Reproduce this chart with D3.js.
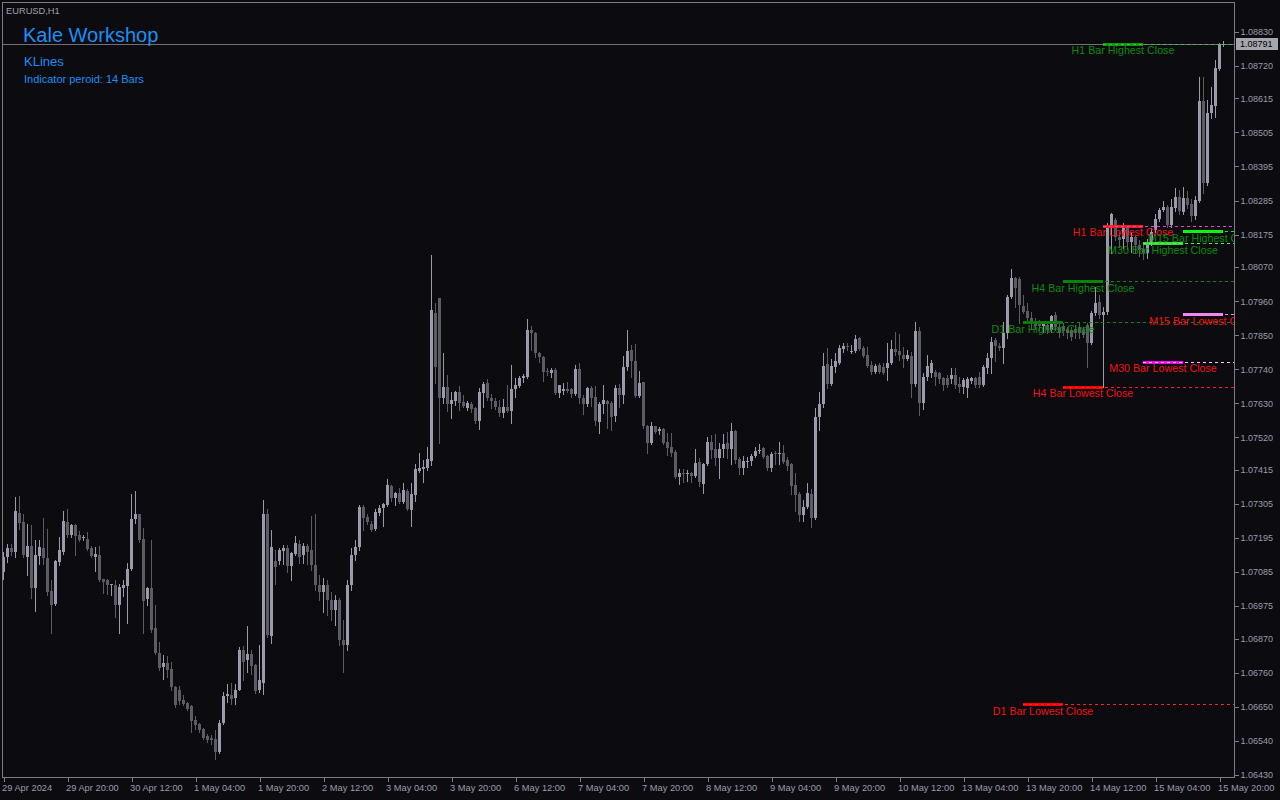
<!DOCTYPE html>
<html><head><meta charset="utf-8">
<script src="https://cdn.jsdelivr.net/npm/d3@7"></script>
<style>html,body{margin:0;padding:0;background:#0b0b10;overflow:hidden}svg{display:block}</style>
</head><body><svg id="c" width="1280" height="800"></svg>
<script>
// ---- DATA (EURUSD H1, one entry per bar, oldest first) ----
const opens=[1.07085,1.07134,1.07164,1.07150,1.07277,1.07245,1.07134,1.07168,1.07033,1.07137,1.07164,1.07131,1.07023,1.06981,1.07117,1.07150,1.07245,1.07204,1.07236,1.07204,1.07195,1.07191,1.07164,1.07134,1.07139,1.07061,1.07058,1.07042,1.07044,1.06977,1.07033,1.07040,1.07096,1.07255,1.07271,1.07191,1.06997,1.07035,1.06903,1.06825,1.06778,1.06792,1.06771,1.06714,1.06703,1.06671,1.06663,1.06651,1.06606,1.06595,1.06577,1.06554,1.06549,1.06546,1.06504,1.06598,1.06683,1.06687,1.06678,1.06705,1.06832,1.06802,1.06821,1.06784,1.06703,1.06727,1.07274,1.06878,1.07121,1.07121,1.07153,1.07161,1.07105,1.07142,1.07177,1.07139,1.07168,1.07155,1.07107,1.07042,1.07019,1.07042,1.06994,1.06961,1.06994,1.06864,1.06848,1.07042,1.07139,1.07165,1.07294,1.07262,1.07239,1.07223,1.07275,1.07291,1.07300,1.07362,1.07323,1.07339,1.07310,1.07346,1.07284,1.07333,1.07410,1.07417,1.07420,1.07443,1.07921,1.07969,1.07646,1.07682,1.07627,1.07636,1.07666,1.07633,1.07614,1.07627,1.07614,1.07572,1.07662,1.07695,1.07646,1.07636,1.07617,1.07598,1.07617,1.07604,1.07675,1.07685,1.07711,1.07714,1.07866,1.07856,1.07792,1.07779,1.07733,1.07727,1.07737,1.07662,1.07669,1.07675,1.07675,1.07659,1.07740,1.07646,1.07627,1.07678,1.07649,1.07569,1.07627,1.07636,1.07630,1.07588,1.07678,1.07656,1.07746,1.07801,1.07766,1.07653,1.07698,1.07556,1.07501,1.07556,1.07540,1.07546,1.07504,1.07488,1.07472,1.07391,1.07404,1.07401,1.07404,1.07394,1.07440,1.07368,1.07433,1.07504,1.07481,1.07452,1.07481,1.07501,1.07481,1.07540,1.07449,1.07420,1.07440,1.07443,1.07459,1.07475,1.07485,1.07459,1.07420,1.07468,1.07465,1.07468,1.07446,1.07433,1.07365,1.07336,1.07268,1.07294,1.07336,1.07259,1.07585,1.07627,1.07756,1.07691,1.07746,1.07759,1.07805,1.07814,1.07795,1.07798,1.07840,1.07808,1.07785,1.07753,1.07730,1.07753,1.07746,1.07743,1.07759,1.07805,1.07798,1.07785,1.07772,1.07782,1.07691,1.07863,1.07630,1.07714,1.07727,1.07730,1.07727,1.07711,1.07711,1.07707,1.07720,1.07691,1.07682,1.07678,1.07701,1.07711,1.07714,1.07688,1.07743,1.07775,1.07833,1.07814,1.07808,1.07856,1.07972,1.08034,1.08031,1.07943,1.07927,1.07905,1.07888,1.07888,1.07879,1.07882,1.07866,1.07914,1.07875,1.07879,1.07869,1.07866,1.07869,1.07875,1.07866,1.07882,1.07824,1.07921,1.07956,1.07914,1.07924,1.08195,1.08221,1.08166,1.08160,1.08195,1.08150,1.08166,1.08140,1.08127,1.08115,1.08147,1.08189,1.08224,1.08253,1.08263,1.08205,1.08260,1.08295,1.08247,1.08292,1.08275,1.08234,1.08283,1.08605,1.08340,1.08567,1.08590,1.08709,1.08791];
const highs=[1.07150,1.07177,1.07177,1.07327,1.07330,1.07274,1.07241,1.07238,1.07187,1.07187,1.07261,1.07225,1.07060,1.07123,1.07198,1.07281,1.07287,1.07241,1.07241,1.07218,1.07204,1.07214,1.07168,1.07166,1.07168,1.07064,1.07061,1.07047,1.07058,1.07047,1.07058,1.07114,1.07336,1.07346,1.07274,1.07228,1.07037,1.07187,1.06977,1.06858,1.06816,1.06814,1.06794,1.06716,1.06716,1.06687,1.06665,1.06654,1.06619,1.06597,1.06582,1.06563,1.06557,1.06574,1.06606,1.06697,1.06722,1.06726,1.06722,1.06843,1.06845,1.06910,1.06832,1.06789,1.06848,1.07317,1.07290,1.07220,1.07157,1.07164,1.07171,1.07171,1.07150,1.07200,1.07187,1.07179,1.07177,1.07265,1.07271,1.07074,1.07065,1.07058,1.07019,1.07010,1.07000,1.06929,1.07058,1.07162,1.07187,1.07300,1.07300,1.07271,1.07249,1.07288,1.07300,1.07307,1.07384,1.07365,1.07342,1.07355,1.07372,1.07352,1.07372,1.07433,1.07468,1.07446,1.07488,1.08108,1.07953,1.07969,1.07792,1.07720,1.07666,1.07669,1.07685,1.07656,1.07636,1.07633,1.07617,1.07678,1.07698,1.07707,1.07659,1.07646,1.07640,1.07643,1.07688,1.07753,1.07711,1.07717,1.07724,1.07901,1.07879,1.07860,1.07795,1.07782,1.07743,1.07743,1.07743,1.07690,1.07695,1.07698,1.07678,1.07753,1.07759,1.07656,1.07682,1.07685,1.07685,1.07633,1.07688,1.07640,1.07636,1.07688,1.07691,1.07782,1.07866,1.07817,1.07821,1.07733,1.07700,1.07559,1.07569,1.07558,1.07552,1.07549,1.07533,1.07533,1.07478,1.07417,1.07417,1.07414,1.07407,1.07481,1.07452,1.07436,1.07520,1.07527,1.07530,1.07501,1.07530,1.07536,1.07565,1.07543,1.07456,1.07459,1.07456,1.07465,1.07488,1.07498,1.07488,1.07462,1.07472,1.07475,1.07504,1.07494,1.07456,1.07436,1.07404,1.07342,1.07317,1.07372,1.07352,1.07614,1.07666,1.07792,1.07808,1.07772,1.07792,1.07817,1.07824,1.07824,1.07817,1.07850,1.07843,1.07814,1.07811,1.07766,1.07756,1.07759,1.07759,1.07824,1.07833,1.07859,1.07853,1.07811,1.07801,1.07795,1.07892,1.07875,1.07727,1.07785,1.07769,1.07737,1.07730,1.07714,1.07720,1.07743,1.07743,1.07714,1.07711,1.07714,1.07714,1.07714,1.07730,1.07753,1.07792,1.07843,1.07840,1.07824,1.07892,1.07979,1.08063,1.08037,1.08037,1.07979,1.07953,1.07924,1.07905,1.07898,1.07892,1.07892,1.07914,1.07924,1.07888,1.07888,1.07875,1.07875,1.07882,1.07888,1.07875,1.07888,1.07927,1.08005,1.07979,1.07940,1.08211,1.08246,1.08227,1.08182,1.08214,1.08205,1.08182,1.08175,1.08156,1.08150,1.08160,1.08195,1.08240,1.08260,1.08285,1.08270,1.08290,1.08325,1.08320,1.08330,1.08315,1.08290,1.08298,1.08683,1.08683,1.08609,1.08651,1.08738,1.08795,1.08800];
const lows=[1.07064,1.07117,1.07139,1.07134,1.07225,1.07134,1.07074,1.07001,1.06959,1.07112,1.07112,1.07010,1.06888,1.06977,1.07107,1.07144,1.07198,1.07198,1.07139,1.07184,1.07187,1.07157,1.07134,1.07087,1.07056,1.07017,1.07013,1.07010,1.06940,1.06888,1.07007,1.06920,1.07093,1.07243,1.07182,1.06888,1.06977,1.06891,1.06819,1.06767,1.06741,1.06746,1.06705,1.06649,1.06660,1.06654,1.06638,1.06568,1.06579,1.06568,1.06547,1.06536,1.06530,1.06482,1.06500,1.06595,1.06665,1.06660,1.06660,1.06703,1.06735,1.06762,1.06757,1.06694,1.06697,1.06692,1.06875,1.06856,1.07047,1.07112,1.07110,1.07085,1.07060,1.07139,1.07114,1.07114,1.07112,1.07091,1.07026,1.06994,1.06955,1.06945,1.06929,1.06913,1.06848,1.06761,1.06832,1.07026,1.07123,1.07155,1.07220,1.07239,1.07217,1.07220,1.07268,1.07233,1.07297,1.07313,1.07300,1.07307,1.07307,1.07284,1.07233,1.07313,1.07407,1.07375,1.07413,1.07430,1.07695,1.07501,1.07630,1.07604,1.07582,1.07624,1.07607,1.07617,1.07607,1.07601,1.07565,1.07546,1.07617,1.07640,1.07614,1.07611,1.07588,1.07585,1.07601,1.07565,1.07649,1.07682,1.07698,1.07711,1.07801,1.07779,1.07762,1.07701,1.07720,1.07714,1.07659,1.07649,1.07659,1.07666,1.07649,1.07656,1.07630,1.07594,1.07620,1.07620,1.07559,1.07533,1.07598,1.07549,1.07543,1.07572,1.07617,1.07630,1.07737,1.07714,1.07649,1.07649,1.07549,1.07468,1.07498,1.07533,1.07530,1.07498,1.07462,1.07459,1.07388,1.07368,1.07375,1.07378,1.07375,1.07391,1.07362,1.07339,1.07430,1.07452,1.07430,1.07388,1.07456,1.07452,1.07433,1.07436,1.07401,1.07401,1.07423,1.07430,1.07456,1.07468,1.07452,1.07413,1.07410,1.07433,1.07433,1.07436,1.07414,1.07336,1.07281,1.07249,1.07249,1.07291,1.07230,1.07256,1.07543,1.07617,1.07678,1.07688,1.07730,1.07756,1.07795,1.07801,1.07792,1.07795,1.07801,1.07779,1.07747,1.07724,1.07727,1.07727,1.07724,1.07704,1.07756,1.07785,1.07769,1.07746,1.07769,1.07649,1.07685,1.07591,1.07611,1.07704,1.07714,1.07688,1.07695,1.07672,1.07682,1.07695,1.07678,1.07666,1.07662,1.07649,1.07695,1.07682,1.07682,1.07685,1.07727,1.07727,1.07766,1.07801,1.07759,1.07840,1.07969,1.07940,1.07888,1.07921,1.07898,1.07872,1.07869,1.07866,1.07859,1.07856,1.07859,1.07866,1.07843,1.07850,1.07840,1.07833,1.07840,1.07840,1.07843,1.07746,1.07820,1.07914,1.07905,1.07684,1.07918,1.08114,1.08156,1.08134,1.08131,1.08127,1.08118,1.08114,1.08105,1.08095,1.08100,1.08140,1.08182,1.08218,1.08250,1.08198,1.08198,1.08250,1.08240,1.08240,1.08260,1.08220,1.08225,1.08280,1.08308,1.08334,1.08550,1.08554,1.08706,1.08785];
const closes=[1.07134,1.07164,1.07150,1.07281,1.07243,1.07139,1.07168,1.07033,1.07139,1.07166,1.07131,1.07021,1.06977,1.07120,1.07157,1.07249,1.07204,1.07236,1.07201,1.07187,1.07199,1.07158,1.07136,1.07142,1.07058,1.07053,1.07044,1.07046,1.06977,1.07038,1.07042,1.07094,1.07257,1.07271,1.07187,1.06991,1.07035,1.06897,1.06825,1.06775,1.06792,1.06767,1.06714,1.06654,1.06668,1.06660,1.06644,1.06604,1.06592,1.06574,1.06550,1.06543,1.06541,1.06504,1.06598,1.06683,1.06690,1.06676,1.06705,1.06832,1.06794,1.06819,1.06781,1.06701,1.06735,1.07271,1.06881,1.07166,1.07101,1.07155,1.07161,1.07105,1.07147,1.07179,1.07134,1.07168,1.07150,1.07107,1.07042,1.07019,1.07042,1.06994,1.06961,1.06994,1.06864,1.06848,1.07042,1.07139,1.07165,1.07294,1.07259,1.07246,1.07220,1.07278,1.07291,1.07304,1.07365,1.07323,1.07339,1.07310,1.07349,1.07288,1.07336,1.07417,1.07420,1.07423,1.07449,1.07930,1.07746,1.07646,1.07682,1.07627,1.07640,1.07666,1.07630,1.07620,1.07630,1.07611,1.07572,1.07666,1.07691,1.07646,1.07636,1.07617,1.07598,1.07617,1.07604,1.07675,1.07688,1.07711,1.07717,1.07866,1.07856,1.07792,1.07779,1.07730,1.07730,1.07737,1.07662,1.07688,1.07675,1.07669,1.07659,1.07740,1.07646,1.07627,1.07678,1.07646,1.07572,1.07627,1.07640,1.07627,1.07585,1.07678,1.07656,1.07746,1.07798,1.07766,1.07653,1.07695,1.07556,1.07501,1.07556,1.07536,1.07546,1.07501,1.07485,1.07468,1.07391,1.07404,1.07401,1.07404,1.07394,1.07436,1.07375,1.07433,1.07504,1.07478,1.07452,1.07481,1.07498,1.07481,1.07540,1.07446,1.07420,1.07443,1.07443,1.07459,1.07475,1.07478,1.07456,1.07420,1.07465,1.07465,1.07468,1.07439,1.07427,1.07362,1.07333,1.07268,1.07294,1.07339,1.07259,1.07585,1.07627,1.07750,1.07691,1.07750,1.07766,1.07808,1.07814,1.07811,1.07798,1.07837,1.07805,1.07782,1.07750,1.07730,1.07750,1.07730,1.07727,1.07759,1.07805,1.07795,1.07785,1.07772,1.07785,1.07691,1.07863,1.07630,1.07714,1.07750,1.07759,1.07714,1.07707,1.07688,1.07688,1.07720,1.07688,1.07682,1.07704,1.07707,1.07711,1.07688,1.07688,1.07746,1.07775,1.07827,1.07814,1.07808,1.07856,1.07972,1.08034,1.08001,1.07946,1.07924,1.07905,1.07888,1.07879,1.07879,1.07888,1.07866,1.07911,1.07875,1.07856,1.07863,1.07856,1.07843,1.07856,1.07856,1.07850,1.07824,1.07921,1.07953,1.07914,1.07924,1.08195,1.08243,1.08166,1.08156,1.08195,1.08150,1.08166,1.08140,1.08124,1.08115,1.08150,1.08182,1.08224,1.08253,1.08263,1.08205,1.08263,1.08295,1.08250,1.08292,1.08270,1.08234,1.08286,1.08605,1.08340,1.08567,1.08593,1.08712,1.08791,1.08791];
const timeLabels=["29 Apr 2024","29 Apr 20:00","30 Apr 12:00","1 May 04:00","1 May 20:00","2 May 12:00","3 May 04:00","3 May 20:00","6 May 12:00","7 May 04:00","7 May 20:00","8 May 12:00","9 May 04:00","9 May 20:00","10 May 12:00","13 May 04:00","13 May 20:00","14 May 12:00","15 May 04:00","15 May 20:00"];
const timeLabelStep=16; // bars between time labels
const priceTicks=[1.08830,1.08720,1.08615,1.08505,1.08395,1.08285,1.08175,1.08070,1.07960,1.07850,1.07740,1.07630,1.07520,1.07415,1.07305,1.07195,1.07085,1.06975,1.06870,1.06760,1.06650,1.06540,1.06430];
const bidPrice=1.08791;
const levelTimeframes=["D1","D1","H4","H4","H1","H1","M30","M30","M15","M15"];
const levelKinds=["Highest","Lowest","Highest","Lowest","Highest","Lowest","Highest","Lowest","Highest","Lowest"];
const levelPrices=[1.07891,1.06658,1.08024,1.07684,1.08791,1.08204,1.08147,1.07765,1.08185,1.07917];
const timeframeOrder=["D1","H4","H1","M30","M15"];
const indicatorPeriod=14;

// ---- STYLE ----
const FONT="'Liberation Sans', Arial, sans-serif";
const segColor={"D1 Highest":"#087808","D1 Lowest":"#ff0000","H4 Highest":"#078307","H4 Lowest":"#ff0000","H1 Highest":"#0a9a0a","H1 Lowest":"#ff1a1a","M30 Highest":"#3ad83a","M30 Lowest":"#ff00ff","M15 Highest":"#00ff00","M15 Lowest":"#ee88ee"};
const dashColor={"D1 Highest":"#0b8a0b","D1 Lowest":"#ff2020","H4 Highest":"#0b8a0b","H4 Lowest":"#ff2020","H1 Highest":"#45c045","H1 Lowest":"#e040e0","M30 Highest":"#45ff45","M30 Lowest":"#ffc0ff","M15 Highest":"#20e020","M15 Lowest":"#ee88ee"};
const labelColor={Highest:"#0e8a0e",Lowest:"#f01414"};

const svg=d3.select("#c");
const W=1280,H=800;
const plot={left:2,top:2,right:1234,bottom:777};
const n=opens.length;
const x=d3.scaleLinear().domain([0,n-1]).range([3,3+4*(n-1)]);
const y=d3.scaleLinear().domain([1.06430,1.08830]).range([774.8,31.8]);

svg.append("rect").attr("width",W).attr("height",H).attr("fill","#0b0b10");
svg.append("defs").append("clipPath").attr("id","clip").append("rect")
  .attr("x",plot.left+1).attr("y",plot.top+1).attr("width",plot.right-plot.left-1).attr("height",plot.bottom-plot.top-1);

const g=svg.append("g").attr("clip-path","url(#clip)");

// bid line
g.append("line").attr("x1",plot.left).attr("x2",plot.right)
  .attr("y1",Math.round(y(bidPrice))+0.5).attr("y2",Math.round(y(bidPrice))+0.5)
  .attr("stroke","#707076").attr("stroke-width",1);

// candles
const bars=d3.range(n);
const cg=g.append("g").attr("shape-rendering","crispEdges");
const bull="#9a9aaa", bear="#5c5c64";
cg.selectAll("rect.wick").data(bars).join("rect").attr("class","wick")
  .attr("x",i=>x(i)).attr("width",1)
  .attr("y",i=>Math.round(y(highs[i])))
  .attr("height",i=>Math.max(1,Math.round(y(lows[i]))-Math.round(y(highs[i]))+1))
  .attr("fill",i=>closes[i]>=opens[i]?bull:bear);
cg.selectAll("rect.body").data(bars).join("rect").attr("class","body")
  .attr("x",i=>x(i)-1).attr("width",3)
  .attr("y",i=>Math.round(y(Math.max(opens[i],closes[i]))))
  .attr("height",i=>Math.max(1,Math.round(y(Math.min(opens[i],closes[i])))-Math.round(y(Math.max(opens[i],closes[i])))))
  .attr("fill",i=>closes[i]>=opens[i]?bull:bear);

// KLines levels
const lastBar=n-1;
const levels=levelPrices.map((p,k)=>({tf:levelTimeframes[k],kind:levelKinds[k],price:p}));
const lg=g.append("g");
levels.forEach(L=>{
  const slot=timeframeOrder.indexOf(L.tf);
  const b0=lastBar-10*(timeframeOrder.length-slot), b1=b0+10;
  const key=L.tf+" "+L.kind;
  const yy=Math.round(y(L.price))+0.5;
  lg.append("line").attr("x1",x(b0)).attr("x2",x(b1)).attr("y1",yy).attr("y2",yy)
    .attr("stroke",segColor[key]).attr("stroke-width",3);
  lg.append("line").attr("x1",x(b0)).attr("x2",plot.right).attr("y1",yy).attr("y2",yy)
    .attr("stroke",dashColor[key]).attr("stroke-width",1).attr("stroke-dasharray","3,3");
});
levels.forEach(L=>{
  const slot=timeframeOrder.indexOf(L.tf);
  const b0=lastBar-10*(timeframeOrder.length-slot), b1=b0+10;
  lg.append("text").attr("x",(x(b0)+x(b1))/2).attr("y",y(L.price)+10.5)
    .attr("text-anchor","middle").attr("font-family",FONT).attr("font-size","10.7px")
    .attr("fill",labelColor[L.kind]).text(L.tf+" Bar "+L.kind+" Close");
});

// frame
const fr=svg.append("g").attr("shape-rendering","crispEdges").attr("stroke","#7c7c84").attr("fill","none");
fr.append("rect").attr("x",plot.left+0.5).attr("y",plot.top+0.5).attr("width",plot.right-plot.left).attr("height",plot.bottom-plot.top);

// y axis
const ya=svg.append("g").attr("transform",`translate(${plot.right+0.5},0)`)
  .call(d3.axisRight(y).tickValues(priceTicks).tickFormat(d3.format(".5f")).tickSize(4).tickSizeOuter(0).tickPadding(2));
ya.select(".domain").remove();
ya.selectAll("line").attr("stroke","#7c7c84").attr("shape-rendering","crispEdges");
ya.selectAll("text").attr("fill","#9c9cab").attr("font-family",FONT).attr("font-size","9px");

// bid label
const by=y(bidPrice);
svg.append("rect").attr("x",plot.right+2).attr("y",Math.round(by)-6).attr("width",42).attr("height",12).attr("fill","#a6a6ae");
svg.append("text").attr("x",plot.right+6).attr("y",by).attr("dy","0.35em").attr("font-family",FONT).attr("font-size","9px").attr("fill","#000").text(d3.format(".5f")(bidPrice));

// x axis
const tickBars=timeLabels.map((d,k)=>k*timeLabelStep);
const xa=svg.append("g").attr("transform",`translate(0.5,${plot.bottom+0.5})`)
  .call(d3.axisBottom(x).tickValues(tickBars).tickFormat((d,k)=>timeLabels[k]).tickSize(4).tickSizeOuter(0));
xa.select(".domain").remove();
xa.selectAll("line").attr("stroke","#7c7c84").attr("shape-rendering","crispEdges");
xa.selectAll("text").attr("fill","#9c9cab").attr("font-family",FONT).attr("font-size","9.3px")
  .attr("text-anchor","start").attr("x",-2).attr("y",7).attr("dy","0.71em");

// header texts
svg.append("text").attr("x",6).attr("y",14).attr("font-family",FONT).attr("font-size","9.3px").attr("fill","#a2a2a8").text("EURUSD,H1");
svg.append("text").attr("x",23).attr("y",42).attr("font-family",FONT).attr("font-size","20px").attr("fill","#1e8ff5").text("Kale Workshop");
svg.append("text").attr("x",24).attr("y",66).attr("font-family",FONT).attr("font-size","13px").attr("fill","#1e8ff5").text("KLines");
svg.append("text").attr("x",24).attr("y",83).attr("font-family",FONT).attr("font-size","11px").attr("fill","#1e8ff5").text("Indicator peroid: "+indicatorPeriod+" Bars");
</script></body></html>
